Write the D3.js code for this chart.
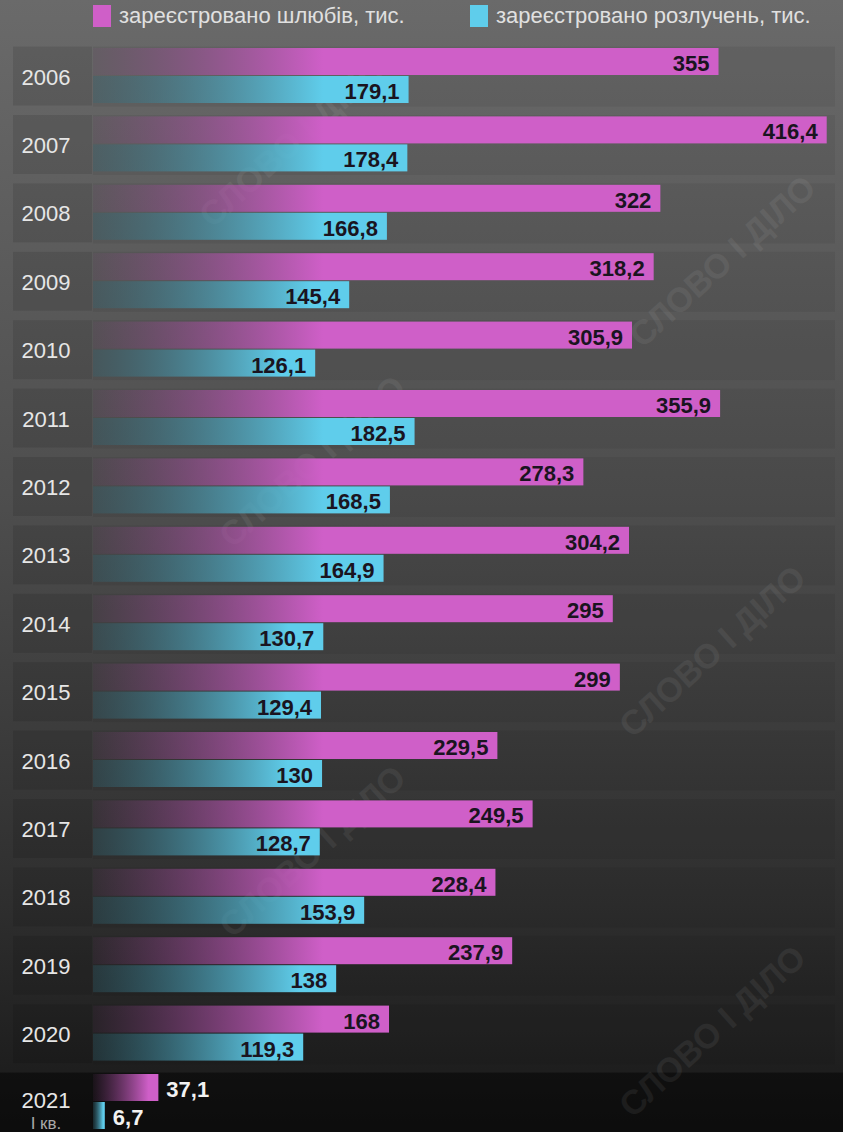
<!DOCTYPE html>
<html>
<head>
<meta charset="utf-8">
<script src="https://cdn.jsdelivr.net/npm/d3@7"></script>
<style>
  body { margin: 0; background: #333; }
  svg { display: block; }
</style>
</head>
<body>
<script>
// data
const years = ['2006', '2007', '2008', '2009', '2010', '2011', '2012', '2013',
               '2014', '2015', '2016', '2017', '2018', '2019', '2020', '2021'];
const marriages = [355, 416.4, 322, 318.2, 305.9, 355.9, 278.3, 304.2,
                   295, 299, 229.5, 249.5, 228.4, 237.9, 168, 37.1];
const divorces = [179.1, 178.4, 166.8, 145.4, 126.1, 182.5, 168.5, 164.9,
                  130.7, 129.4, 130, 128.7, 153.9, 138, 119.3, 6.7];
const seriesNames = ['зареєстровано шлюбів, тис.', 'зареєстровано розлучень, тис.'];
const lastSub = 'І кв.';

const W = 843, H = 1132;
const colors = ['#cf5fc8', '#5fcdeb'];
const barH = 27;
const lastYear = years[years.length - 1];

const x = d3.scaleLinear().domain([0, 450]).range([93, 93 + 450 * 1.762]);
const y = d3.scaleBand().domain(years).range([44.6, 44.6 + years.length * 68.4]);

const fmt = v => String(v).replace('.', ',');

const svg = d3.select('body').append('svg')
    .attr('width', W)
    .attr('height', H)
    .style('font-family', 'Arial, "Liberation Sans", sans-serif');

const defs = svg.append('defs');
const bg = defs.append('linearGradient').attr('id', 'bg')
    .attr('x1', 0).attr('x2', 0).attr('y1', 0).attr('y2', 1);
bg.append('stop').attr('offset', 0).attr('stop-color', '#6a6a6a');
bg.append('stop').attr('offset', 0.45).attr('stop-color', '#4d4d4d');
bg.append('stop').attr('offset', 0.8).attr('stop-color', '#2e2e2e');
bg.append('stop').attr('offset', 1).attr('stop-color', '#181818');

svg.append('rect').attr('width', W).attr('height', H).attr('fill', 'url(#bg)');

// row bands
const rows = svg.append('g');
rows.selectAll('rect.band')
    .data(years)
    .join('rect')
    .attr('class', 'band')
    .attr('x', d => d === lastYear ? 0 : 93)
    .attr('y', d => y(d) + 2)
    .attr('width', d => d === lastYear ? W : 742)
    .attr('height', d => d === lastYear ? 70 : 60)
    .attr('fill', '#000')
    .attr('opacity', d => d === lastYear ? 0.45 : 0.06);

rows.selectAll('rect.lab')
    .data(years.slice(0, -1))
    .join('rect')
    .attr('class', 'lab')
    .attr('x', 13)
    .attr('y', d => y(d) + 2)
    .attr('width', 79)
    .attr('height', 59)
    .attr('fill', '#000')
    .attr('opacity', 0.1);

// watermark
const wm = [[300, 150], [730, 270], [320, 470], [720, 660], [320, 860], [720, 1040]];
svg.append('g').selectAll('text')
    .data(wm)
    .join('text')
    .attr('transform', d => `translate(${d[0]},${d[1]}) rotate(-42)`)
    .attr('text-anchor', 'middle')
    .attr('fill', '#fff')
    .attr('opacity', 0.06)
    .style('font-size', '34px')
    .style('font-weight', 'bold')
    .text('СЛОВО І ДІЛО');

// bars: one gradient per bar
const bars = [];
years.forEach((yr, i) => {
    bars.push({year: yr, s: 0, v: marriages[i], i: i});
    bars.push({year: yr, s: 1, v: divorces[i], i: i});
});

const grads = defs.selectAll('linearGradient.bar')
    .data(bars)
    .join('linearGradient')
    .attr('class', 'bar')
    .attr('id', (d, k) => 'g' + k)
    .attr('gradientUnits', 'userSpaceOnUse')
    .attr('x1', x(0))
    .attr('x2', d => x(0) + Math.min(230, (x(d.v) - x(0)) * 0.85))
    .attr('y1', 0).attr('y2', 0);
grads.append('stop').attr('offset', 0)
    .attr('stop-color', d => d3.interpolateRgb(colors[d.s], '#000')(d.s === 0 ? 0.3 : 0.5))
    .attr('stop-opacity', d => d.s === 0 ? 0.08 : 0.3);
grads.append('stop').attr('offset', 1)
    .attr('stop-color', d => colors[d.s])
    .attr('stop-opacity', 1);

const barTop = d => y(d.year) + 3.4 + d.s * 28;

svg.append('g').selectAll('rect')
    .data(bars)
    .join('rect')
    .attr('x', x(0))
    .attr('y', barTop)
    .attr('width', d => x(d.v) - x(0))
    .attr('height', barH)
    .attr('fill', (d, k) => `url(#g${k})`);

// value labels: inside the bar end, outside (white) for the short last row
svg.append('g').selectAll('text')
    .data(bars)
    .join('text')
    .attr('y', d => barTop(d) + 23)
    .attr('x', d => d.year === lastYear ? x(d.v) + 8 : x(d.v) - 9)
    .attr('text-anchor', d => d.year === lastYear ? 'start' : 'end')
    .attr('fill', d => d.year === lastYear ? '#f2f2f2' : '#1a1420')
    .style('font-size', '22px')
    .style('font-weight', 'bold')
    .text(d => fmt(d.v));

// year labels
svg.append('g').selectAll('text')
    .data(years)
    .join('text')
    .attr('x', 46)
    .attr('y', d => d === lastYear ? y(d) + 37 : y(d) + 40)
    .attr('text-anchor', 'middle')
    .attr('fill', '#e6e6e6')
    .style('font-size', '22px')
    .text(d => d);

svg.append('text')
    .attr('x', 46)
    .attr('y', y(lastYear) + 58)
    .attr('text-anchor', 'middle')
    .attr('fill', '#a8a8a8')
    .style('font-size', '17px')
    .text(lastSub);

// legend
const legendX = [93, 470];
const legend = svg.append('g').selectAll('g')
    .data(seriesNames)
    .join('g')
    .attr('transform', (d, i) => `translate(${legendX[i]}, 5)`);
legend.append('rect')
    .attr('width', 18)
    .attr('height', 22)
    .attr('fill', (d, i) => colors[i]);
legend.append('text')
    .attr('x', 26)
    .attr('y', 18)
    .attr('fill', '#e0e0e0')
    .style('font-size', '22px')
    .text(d => d);
</script>
</body>
</html>
